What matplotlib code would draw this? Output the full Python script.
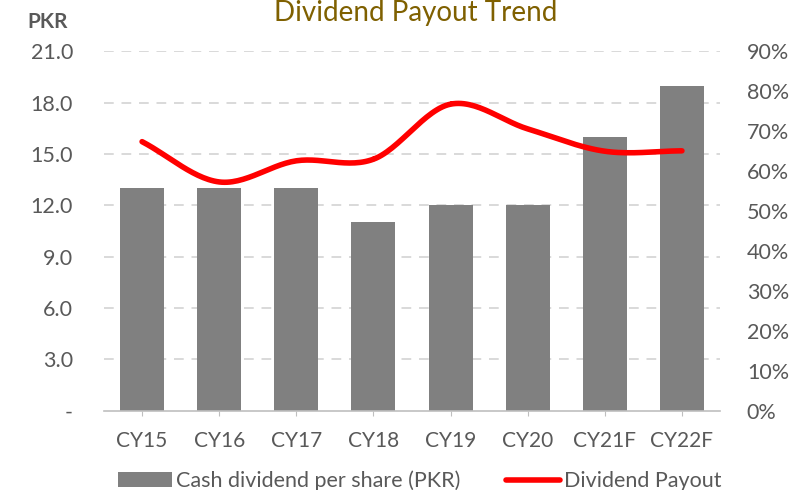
import numpy as np
import matplotlib
matplotlib.use("Agg")
import matplotlib.pyplot as plt
from matplotlib.ticker import FuncFormatter, FixedLocator

plt.rcParams['font.family'] = ['Lato', 'DejaVu Sans']

categories = ["CY15", "CY16", "CY17", "CY18", "CY19", "CY20", "CY21F", "CY22F"]
dps = [13.0, 13.0, 13.0, 11.0, 12.0, 12.0, 16.0, 19.0]
payout = [0.674, 0.573, 0.626, 0.630, 0.768, 0.706, 0.650, 0.651]
left_ticks = [0, 3, 6, 9, 12, 15, 18, 21]
right_ticks = [0, 0.1, 0.2, 0.3, 0.4, 0.5, 0.6, 0.7, 0.8, 0.9]

txt = "#595959"
fig = plt.figure(figsize=(7.92, 4.90), dpi=100)
ax = fig.add_axes([0.1307, 0.1622, 0.779, 0.7327])
x = np.arange(len(categories))

ax.set_axisbelow(True)
for t in left_ticks[1:]:
    ax.axhline(t, color="#D9D9D9", lw=1.4, ls=(0, (5, 4)), zorder=0)
ax.bar(x, dps, width=0.57, color="#808080", zorder=2, label="Cash dividend per share (PKR)")
ax.set_ylim(0, 21)
ax.set_xlim(-0.5, len(categories) - 0.5)
ax.yaxis.set_major_locator(FixedLocator(left_ticks))
ax.yaxis.set_major_formatter(FuncFormatter(lambda v, p: "-" if v == 0 else f"{v:.1f}"))
ax.set_xticks(x)
ax.set_xticklabels(categories)
for s in ["top", "right", "left"]:
    ax.spines[s].set_visible(False)
ax.spines["bottom"].set_color("#BFBFBF")
ax.spines["bottom"].set_linewidth(1.2)
ax.tick_params(axis="y", length=0, labelsize=15.5, labelcolor=txt, pad=22)
ax.tick_params(axis="x", length=3.5, color="#BFBFBF", labelsize=15, labelcolor=txt, pad=11)

ax2 = ax.twinx()
ax2.set_ylim(0, 0.9)
# Smooth curve (Catmull-Rom) through the data points, like Excel's smoothed line
P = np.column_stack([x, payout]).astype(float)
pts = np.vstack([P[0] - (P[1] - P[0]), P, P[-1] + (P[-1] - P[-2])])
xs, ys = [], []
tt = np.linspace(0, 1, 30)
for i in range(1, len(pts) - 2):
    p0, p1, p2, p3 = pts[i - 1], pts[i], pts[i + 1], pts[i + 2]
    for t in tt:
        c = 0.5 * ((2 * p1) + (-p0 + p2) * t + (2 * p0 - 5 * p1 + 4 * p2 - p3) * t ** 2
                   + (-p0 + 3 * p1 - 3 * p2 + p3) * t ** 3)
        xs.append(c[0]); ys.append(c[1])
ax2.plot(xs, ys, color="#FF0000", lw=4.0, solid_capstyle="round", zorder=3, label="Dividend Payout")
ax2.yaxis.set_major_locator(FixedLocator(right_ticks))
ax2.yaxis.set_major_formatter(FuncFormatter(lambda v, p: f"{v*100:.0f}%"))
for s in ["top", "right", "left", "bottom"]:
    ax2.spines[s].set_visible(False)
ax2.tick_params(axis="y", length=0, labelsize=15.5, labelcolor=txt, pad=19)

fig.text(0.525, 0.999, "Dividend Payout Trend", ha="center", va="top", fontsize=20, color="#7F6000")
fig.text(0.034, 0.955, "PKR", ha="left", va="center", fontsize=15, color=txt, fontweight="bold")

h1, l1 = ax.get_legend_handles_labels()
h2, l2 = ax2.get_legend_handles_labels()
fig.legend(h1 + h2, l1 + l2, loc="center", bbox_to_anchor=(0.530, 0.018), ncol=2, frameon=False,
           fontsize=15.5, labelcolor=txt, handlelength=2.5, handletextpad=0.2, columnspacing=2.1,
           borderpad=0, borderaxespad=0)

fig.savefig("out.png", dpi=100)
